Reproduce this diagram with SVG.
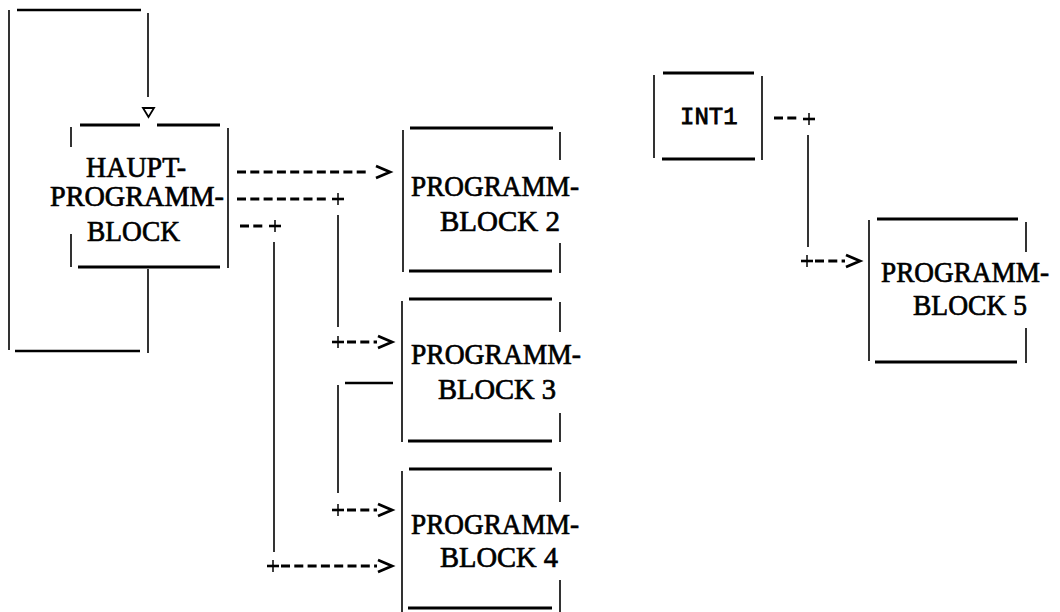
<svg xmlns="http://www.w3.org/2000/svg" xmlns:xlink="http://www.w3.org/1999/xlink" width="1060" height="612" viewBox="0 0 1060 612">
  <style>
    .edge-h { stroke: #000; stroke-width: 3; fill: none; stroke-linecap: butt; }
    .edge-v { stroke: #000; stroke-width: 1.6; fill: none; }
    .label { font-family: "Liberation Serif", "Times New Roman", serif; font-size: 29.5px; fill: #000; stroke: #000; stroke-width: 0.7; }
    .mono { font-family: "Liberation Mono", "Courier New", monospace; font-size: 24px; fill: #000; stroke: #000; stroke-width: 0.8; }
    .dash { stroke: #000; stroke-width: 3; fill: none; stroke-dasharray: 9 4.3; }
    .wire { stroke: #000; stroke-width: 1.6; fill: none; }
    .bar { stroke: #000; stroke-width: 2.6; fill: none; }
  </style>
  <defs>
    <!-- ">" arrow head, tip at x=14 -->
    <path id="chev" d="M0,-6 L14,0 L0,6" fill="none" stroke="#000" stroke-width="2.8" stroke-linejoin="miter"/>
    <!-- "+" junction -->
    <g id="plus">
      <path d="M-6,0 H6" stroke="#000" stroke-width="2.6"/>
      <path d="M0,-6 V6" stroke="#000" stroke-width="1.5"/>
    </g>
  </defs>
  <rect width="1060" height="612" fill="#fff"/>

  <!-- main program block -->
  <g id="haupt">
    <path class="edge-h" d="M80,125 H140 M157,125 H220 M78,267 H220"/>
    <path class="edge-v" d="M71,127 V147 M71,234 V267 M228,128 V268"/>
    <text class="label" x="86" y="177" textLength="100" lengthAdjust="spacingAndGlyphs">HAUPT-</text>
    <text class="label" x="50" y="206" textLength="174" lengthAdjust="spacingAndGlyphs">PROGRAMM-</text>
    <text class="label" x="87" y="241" textLength="93" lengthAdjust="spacingAndGlyphs">BLOCK</text>
  </g>

  <!-- program block 2 -->
  <g id="block2">
    <path class="edge-h" d="M410,128 H553 M409,271 H552"/>
    <path class="edge-v" d="M403,130 V272 M560,132 V160 M560,243 V273"/>
    <text class="label" x="411" y="196" textLength="168" lengthAdjust="spacingAndGlyphs">PROGRAMM-</text>
    <text class="label" x="440" y="231" textLength="120" lengthAdjust="spacingAndGlyphs">BLOCK 2</text>
  </g>

  <!-- program block 3 -->
  <g id="block3">
    <path class="edge-h" d="M409,299 H552 M408,441 H552"/>
    <path class="edge-v" d="M402,301 V442 M560,302 V332 M560,413 V442"/>
    <text class="label" x="411" y="364" textLength="170" lengthAdjust="spacingAndGlyphs">PROGRAMM-</text>
    <text class="label" x="438" y="399" textLength="118" lengthAdjust="spacingAndGlyphs">BLOCK 3</text>
  </g>

  <!-- program block 4 -->
  <g id="block4">
    <path class="edge-h" d="M409,469 H552 M408,608 H552"/>
    <path class="edge-v" d="M402,471 V612 M560,472 V502 M560,580 V612"/>
    <text class="label" x="411" y="534" textLength="168" lengthAdjust="spacingAndGlyphs">PROGRAMM-</text>
    <text class="label" x="440" y="567" textLength="118" lengthAdjust="spacingAndGlyphs">BLOCK 4</text>
  </g>

  <!-- interrupt block -->
  <g id="int1">
    <path class="edge-h" d="M663,73 H754 M662,159 H755"/>
    <path class="edge-v" d="M654,75 V158 M762,76 V160"/>
    <text class="mono" x="680" y="124">INT1</text>
  </g>

  <!-- program block 5 -->
  <g id="block5">
    <path class="edge-h" d="M877,219 H1018 M875,362 H1017"/>
    <path class="edge-v" d="M869,220 V361 M1026,222 V252 M1026,328 V363"/>
    <text class="label" x="881" y="282" textLength="168" lengthAdjust="spacingAndGlyphs">PROGRAMM-</text>
    <text class="label" x="913" y="315" textLength="114" lengthAdjust="spacingAndGlyphs">BLOCK 5</text>
  </g>

  <g id="connectors">
    <!-- cyclic loop around the main block -->
    <path class="bar" d="M17,10 H141 M15,351 H140"/>
    <path class="wire" d="M9,10 V350 M148,13 V97 M148,269 V353"/>
    <path d="M143,108 H154 L148.5,117 Z" fill="#fff" stroke="#000" stroke-width="1.8" stroke-linejoin="miter"/>

    <!-- main block to block 2 -->
    <path class="dash" d="M237,172 H366"/>
    <use xlink:href="#chev" x="376" y="172"/>

    <!-- main block to block 3 -->
    <path class="dash" d="M237,199 H326"/>
    <use xlink:href="#plus" x="338" y="199"/>
    <path class="wire" d="M338,215 V327"/>
    <use xlink:href="#plus" x="338" y="342"/>
    <path class="dash" d="M347,342 H377"/>
    <use xlink:href="#chev" x="378" y="342"/>

    <!-- block 3 on to block 4 -->
    <path class="bar" d="M345,383 H393"/>
    <path class="wire" d="M338,385 V493"/>
    <use xlink:href="#plus" x="338" y="510"/>
    <path class="dash" d="M347,510 H377"/>
    <use xlink:href="#chev" x="378" y="510"/>

    <!-- main block to block 4 -->
    <path class="dash" d="M240,226 H263"/>
    <use xlink:href="#plus" x="275" y="226"/>
    <path class="wire" d="M274,242 V552"/>
    <use xlink:href="#plus" x="273" y="566"/>
    <path class="dash" d="M281,566 H377"/>
    <use xlink:href="#chev" x="378" y="566"/>

    <!-- interrupt to block 5 -->
    <path class="dash" d="M774,118 H797"/>
    <use xlink:href="#plus" x="809" y="119"/>
    <path class="wire" d="M808,135 V247"/>
    <use xlink:href="#plus" x="807" y="261"/>
    <path class="dash" d="M815,261 H845"/>
    <use xlink:href="#chev" x="846" y="261"/>
  </g>
</svg>
